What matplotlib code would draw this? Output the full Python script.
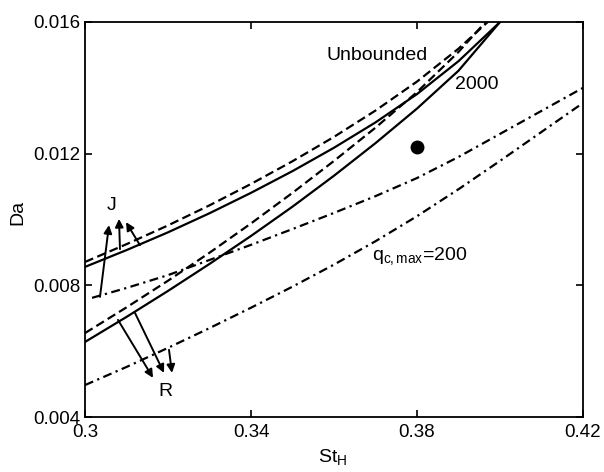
import matplotlib
matplotlib.use("Agg")
import matplotlib.pyplot as plt

plt.rcParams['font.family'] = ['Liberation Sans', 'DejaVu Sans']
plt.rcParams['mathtext.fontset'] = 'custom'
plt.rcParams['mathtext.rm'] = 'Liberation Sans'
plt.rcParams['mathtext.it'] = 'Liberation Sans'

# ---- data ----
st_main = [0.30, 0.31, 0.32, 0.33, 0.34, 0.35, 0.36, 0.37, 0.38, 0.39, 0.40]
# q_c,max = 2000 (solid): J branch (upper) and R branch (lower)
da_2000_J = [0.00856, 0.00907, 0.00961, 0.01019, 0.01081, 0.01147, 0.01218, 0.01295, 0.01381, 0.01481, 0.0160]
da_2000_R = [0.00628, 0.00704, 0.00783, 0.00865, 0.00950, 0.01039, 0.01133, 0.01232, 0.01337, 0.01452, 0.0160]
# unbounded (dashed)
da_unb_J = [0.00871, 0.00925, 0.00982, 0.01043, 0.01108, 0.01177, 0.01251, 0.01331, 0.01419, 0.01519, 0.01634]
da_unb_R = [0.00655, 0.00733, 0.00814, 0.00899, 0.00988, 0.01081, 0.01178, 0.01279, 0.01387, 0.01509, 0.01649]
# q_c,max = 200 (dash-dot)
st_200_J = [0.3017, 0.31, 0.32, 0.33, 0.34, 0.35, 0.36, 0.37, 0.38, 0.39, 0.40, 0.41, 0.42]
da_200_J = [0.00762, 0.00792, 0.00831, 0.00877, 0.00923, 0.00971, 0.01020, 0.01071, 0.01126, 0.01190, 0.01260, 0.01330, 0.01400]
st_200_R = [0.30, 0.31, 0.32, 0.33, 0.34, 0.35, 0.36, 0.37, 0.38, 0.39, 0.40, 0.41, 0.42]
da_200_R = [0.00497, 0.00552, 0.00610, 0.00670, 0.00732, 0.00796, 0.00863, 0.00934, 0.01010, 0.01092, 0.01178, 0.01266, 0.01354]
# operating point
point_st = [0.38]
point_da = [0.0122]

x_ticks = [0.30, 0.34, 0.38, 0.42]
x_tick_labels = ['0.3', '0.34', '0.38', '0.42']
y_ticks = [0.004, 0.008, 0.012, 0.016]
y_tick_labels = ['0.004', '0.008', '0.012', '0.016']

# arrows: (tail, head) in data coords
arrows_J = [((0.30361, 0.00765), (0.30578, 0.00983)),
            ((0.30843, 0.00910), (0.30819, 0.01002)),
            ((0.31325, 0.00922), (0.30988, 0.00992))]
arrows_R = [((0.30795, 0.00695), (0.31639, 0.00519)),
            ((0.31205, 0.00716), (0.31904, 0.00534)),
            ((0.32024, 0.00604), (0.32096, 0.00534))]

fig = plt.figure(figsize=(6.04, 4.72), dpi=100)
ax = fig.add_axes([85/604, 1-417/472, 498/604, 395/472])

lw = 1.6
dash = (0, (4, 2))
dashdot = (0, (4, 2, 1, 2))
ax.plot(st_main, da_2000_J, color='black', lw=lw, ls='-')
ax.plot(st_main, da_2000_R, color='black', lw=lw, ls='-')
ax.plot(st_main, da_unb_J, color='black', lw=lw, ls=dash)
ax.plot(st_main, da_unb_R, color='black', lw=lw, ls=dash)
ax.plot(st_200_J, da_200_J, color='black', lw=lw, ls=dashdot)
ax.plot(st_200_R, da_200_R, color='black', lw=lw, ls=dashdot)
ax.plot(point_st, point_da, 'o', color='black', ms=9)

for tail, head in arrows_J + arrows_R:
    ax.annotate('', xy=head, xytext=tail,
                arrowprops=dict(arrowstyle='-|>', color='black', lw=1.4,
                                mutation_scale=12, shrinkA=0, shrinkB=0))

fs = 14
ax.text(0.3065, 0.01044, 'J', fontsize=fs, ha='center', va='center')
ax.text(0.3193, 0.00476, 'R', fontsize=fs, ha='center', va='center')
ax.text(0.3827, 0.01497, 'Unbounded', fontsize=fs, ha='right', va='center')
ax.text(0.3892, 0.01409, '2000', fontsize=fs, ha='left', va='center')
ax.text(0.3692, 0.00889, r'$\mathregular{q_{c,max}}$=200', fontsize=fs, ha='left', va='center')

ax.set_xlim(0.30, 0.42)
ax.set_ylim(0.004, 0.016)
ax.set_xticks(x_ticks)
ax.set_xticklabels(x_tick_labels)
ax.set_yticks(y_ticks)
ax.set_yticklabels(y_tick_labels)
ax.tick_params(direction='in', length=5, width=1.2, top=True, right=True,
               labelsize=13.5)
ax.tick_params(axis='x', pad=5)
for s in ax.spines.values():
    s.set_linewidth(1.3)

ax.set_xlabel(r'$\mathregular{St_H}$', fontsize=14)
ax.set_ylabel('Da', fontsize=14)
ax.xaxis.set_label_coords(0.498, -0.075)
ax.yaxis.set_label_coords(-0.118, 0.519)

fig.savefig('out.png', dpi=100)
